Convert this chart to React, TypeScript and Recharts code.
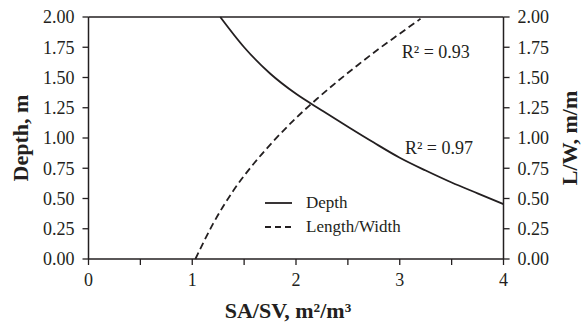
import React from 'react';
import {
  LineChart,
  Line,
  XAxis,
  YAxis,
  ReferenceLine,
  ReferenceDot,
  Label,
  Legend,
} from 'recharts';

const FONT = '"Liberation Serif", "Times New Roman", serif';
const INK = '#231f20';

// Depth curve (left axis)
const depthX = [1.27, 1.5, 1.75, 2.0, 2.25, 2.5, 2.75, 3.0, 3.25, 3.5, 3.75, 4.0];
const depthY = [2.0, 1.75, 1.533, 1.365, 1.228, 1.093, 0.962, 0.837, 0.731, 0.632, 0.543, 0.454];

// Length/Width curve (right axis)
const lwX = [1.03, 1.2, 1.4, 1.6, 1.8, 2.0, 2.2, 2.4, 2.6, 2.8, 3.0, 3.2];
const lwY = [0, 0.29, 0.57, 0.795, 0.99, 1.165, 1.322, 1.468, 1.606, 1.738, 1.862, 1.985];

const xTicks = [0, 0.5, 1, 1.5, 2, 2.5, 3, 3.5, 4];
const yTicks = [0, 0.25, 0.5, 0.75, 1, 1.25, 1.5, 1.75, 2];

const seriesNames = ['Depth', 'Length/Width'];
const r2Labels = ['R² = 0.93', 'R² = 0.97'];
const r2Pos = [
  { x: 3.02, y: 1.71 },
  { x: 3.05, y: 0.92 },
];

const depthData = depthX.map((x, i) => ({ x, y: depthY[i] }));
const lwData = lwX.map((x, i) => ({ x, y: lwY[i] }));

const tickStyle = { fontSize: 18, fill: INK, fontFamily: FONT };
const titleProps = { fontSize: 22, fontWeight: 'bold', fontFamily: FONT, fill: INK };

const LegendContent = () => (
  <div style={{ fontFamily: FONT, fontSize: 17, color: INK }}>
    {seriesNames.map((name, i) => (
      <div key={name} style={{ display: 'flex', alignItems: 'center', height: 24 }}>
        <svg width={27} height={24} style={{ display: 'block' }}>
          <line
            x1={0}
            x2={27}
            y1={12}
            y2={12}
            stroke={INK}
            strokeWidth={1.8}
            strokeDasharray={i === 1 ? '6 4' : undefined}
          />
        </svg>
        <span style={{ marginLeft: 14, whiteSpace: 'nowrap' }}>{name}</span>
      </div>
    ))}
  </div>
);

export default function App() {
  return (
    <div style={{ position: 'absolute', left: 0, top: 0 }}>
      <LineChart width={581} height={325} margin={{ top: 17, right: 0, bottom: 0, left: 0 }}>
        <XAxis
          type="number"
          dataKey="x"
          domain={[0, 4]}
          ticks={xTicks}
          interval={0}
          tickFormatter={(v: number) => (Number.isInteger(v) ? String(v) : '')}
          height={66}
          tickSize={6}
          tickMargin={8}
          axisLine={{ stroke: INK, strokeWidth: 1.5 }}
          tickLine={{ stroke: INK, strokeWidth: 1.3 }}
          tick={tickStyle}
        >
          <Label value="SA/SV, m²/m³" position="insideBottom" offset={7} dx={-8} {...titleProps} />
        </XAxis>
        <YAxis
          yAxisId="left"
          type="number"
          domain={[0, 2]}
          ticks={yTicks}
          interval={0}
          tickFormatter={(v: number) => v.toFixed(2)}
          width={88.5}
          tickSize={6}
          tickMargin={8}
          axisLine={{ stroke: INK, strokeWidth: 1.5 }}
          tickLine={{ stroke: INK, strokeWidth: 1.3 }}
          tick={tickStyle}
        >
          <Label value="Depth, m" position="center" angle={-90} dx={-24} {...titleProps} />
        </YAxis>
        <YAxis
          yAxisId="right"
          orientation="right"
          type="number"
          domain={[0, 2]}
          ticks={yTicks}
          interval={0}
          tickFormatter={(v: number) => v.toFixed(2)}
          width={77.5}
          tickSize={6}
          tickMargin={8}
          axisLine={{ stroke: INK, strokeWidth: 1.5 }}
          tickLine={{ stroke: INK, strokeWidth: 1.3 }}
          tick={tickStyle}
        >
          <Label value="L/W, m/m" position="center" angle={-90} dx={27} {...titleProps} />
        </YAxis>
        <ReferenceLine yAxisId="left" y={2} stroke={INK} strokeWidth={1.5} />
        <Line
          yAxisId="left"
          data={depthData}
          dataKey="y"
          name={seriesNames[0]}
          type="monotone"
          stroke={INK}
          strokeWidth={1.8}
          dot={false}
          isAnimationActive={false}
        />
        <Line
          yAxisId="right"
          data={lwData}
          dataKey="y"
          name={seriesNames[1]}
          type="monotone"
          stroke={INK}
          strokeWidth={1.8}
          strokeDasharray="7 4"
          dot={false}
          isAnimationActive={false}
        />
        {r2Labels.map((t, i) => (
          <ReferenceDot
            key={t}
            yAxisId="left"
            x={r2Pos[i].x}
            y={r2Pos[i].y}
            r={0}
            fill="none"
            stroke="none"
          >
            <Label value={t} position="right" offset={0} fontSize={18} fontFamily={FONT} fill={INK} />
          </ReferenceDot>
        ))}
        <Legend
          layout="vertical"
          align="center"
          verticalAlign="middle"
          content={LegendContent}
          wrapperStyle={{ position: 'absolute', left: 265, top: 191, width: 'auto', height: 'auto' }}
        />
      </LineChart>
    </div>
  );
}
